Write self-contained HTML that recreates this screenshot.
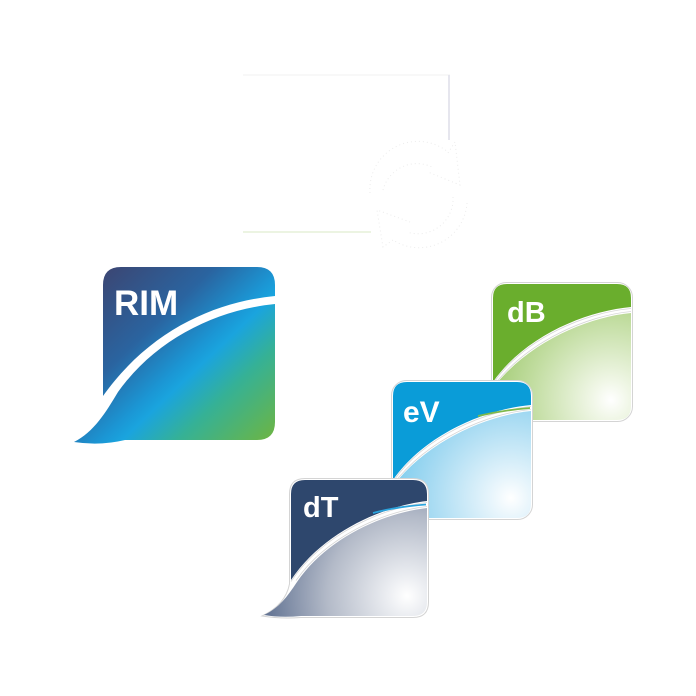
<!DOCTYPE html>
<html><head><meta charset="utf-8"><style>
html,body{margin:0;padding:0;background:#fff;}
svg{display:block;}
text{font-family:"Liberation Sans",sans-serif;font-weight:bold;fill:#fff;}
</style></head><body>
<svg width="696" height="696" viewBox="0 0 696 696" xmlns="http://www.w3.org/2000/svg">
<defs>
<linearGradient id="rim" gradientUnits="userSpaceOnUse" x1="110" y1="270" x2="272" y2="440">
<stop offset="0" stop-color="#3a4876"/>
<stop offset="0.3" stop-color="#2a64a0"/>
<stop offset="0.5" stop-color="#1b96d4"/>
<stop offset="0.56" stop-color="#1aa4de"/>
<stop offset="0.72" stop-color="#35b196"/>
<stop offset="1" stop-color="#6cb544"/>
</linearGradient>
<radialGradient id="gB" gradientUnits="userSpaceOnUse" cx="118" cy="116" r="150">
<stop offset="0" stop-color="#ffffff"/>
<stop offset="0.12" stop-color="#f1f7e8"/>
<stop offset="0.55" stop-color="#c0dc9e"/>
<stop offset="1" stop-color="#8ec058"/>
</radialGradient>
<radialGradient id="gV" gradientUnits="userSpaceOnUse" cx="118" cy="116" r="150">
<stop offset="0" stop-color="#ffffff"/>
<stop offset="0.12" stop-color="#eaf6fc"/>
<stop offset="0.55" stop-color="#a5daf2"/>
<stop offset="1" stop-color="#5fc2ea"/>
</radialGradient>
<radialGradient id="gT" gradientUnits="userSpaceOnUse" cx="116" cy="116" r="160">
<stop offset="0" stop-color="#ffffff"/>
<stop offset="0.12" stop-color="#eceef2"/>
<stop offset="0.5" stop-color="#b3bac8"/>
<stop offset="0.85" stop-color="#6a7a98"/>
<stop offset="1" stop-color="#4e6084"/>
</radialGradient>
</defs>

<!-- faint frame -->
<line x1="243" y1="75" x2="450" y2="75" stroke="#f5f5f5" stroke-width="1.5"/>
<line x1="449" y1="75" x2="449" y2="140" stroke="#e6e6ee" stroke-width="2"/>
<line x1="243" y1="232" x2="371" y2="232" stroke="#e6f1d8" stroke-width="1.5"/>

<!-- faint refresh icon -->
<g fill="none" stroke="#ececec" stroke-width="1" stroke-dasharray="1 3">
<path d="M370 193 A48 48 0 0 1 448 152"/>
<path d="M383 190 A35 35 0 0 1 432 167"/>
<path d="M448 153 L455 142 L460 185 L428 172"/>
<path d="M467 203 A48 48 0 0 1 393 240"/>
<path d="M453 197 A35 35 0 0 1 407 232"/>
<path d="M393 240 L383 247 L377 210 L410 222"/>
</g>

<!-- RIM icon -->
<path d="M103 285 Q103 267 121 267 L257 267 Q275 267 275 285 L275 296 C215 302 150 330 103 396 Z" fill="url(#rim)"/>
<path d="M275 304 C215 310 155 340 118 392 C106 412 94 432 74 442 Q100 446 125 440 L257 440 Q275 440 275 422 Z" fill="url(#rim)"/>
<text x="114" y="315" font-size="35">RIM</text>

<!-- dB icon -->
<g transform="translate(493,284)">
<rect x="-1.5" y="-1.5" width="141" height="139" rx="15" fill="#fff" stroke="#d4d4d4" stroke-width="1"/>
<path d="M0 14 Q0 0 14 0 L124 0 Q138 0 138 14 L138 23 C93 27 32 52 0 98 Z" fill="#6aae2d"/>
<path d="M138 29 C95 33 35 58 0 104 L0 122 Q0 136 14 136 L124 136 Q138 136 138 122 Z" fill="url(#gB)"/>
<path d="M138 24.5 C93 28.5 32 53.5 0 99.5" fill="none" stroke="#d6d6d6" stroke-width="0.8"/>
<path d="M138 27.5 C95 31.5 35 56.5 0 102.5" fill="none" stroke="#d6d6d6" stroke-width="0.8"/>
<text x="14" y="38" font-size="29">dB</text>
</g>

<!-- eV icon -->
<g transform="translate(393,382)">
<rect x="-1.5" y="-1.5" width="141" height="139" rx="15" fill="#fff" stroke="#d4d4d4" stroke-width="1"/>
<path d="M0 14 Q0 0 14 0 L124 0 Q138 0 138 14 L138 23 C93 27 32 52 0 98 Z" fill="#0a9cd8"/>
<path d="M138 29 C95 33 35 58 0 104 L0 122 Q0 136 14 136 L124 136 Q138 136 138 122 Z" fill="url(#gV)"/>
<path d="M138 24.5 C93 28.5 32 53.5 0 99.5" fill="none" stroke="#d6d6d6" stroke-width="0.8"/>
<path d="M138 27.5 C95 31.5 35 56.5 0 102.5" fill="none" stroke="#d6d6d6" stroke-width="0.8"/>
<path d="M137 26 C118 27.5 100 30.5 85 34" fill="none" stroke="#7fb94a" stroke-width="1.8"/>
<text x="10" y="40" font-size="30">eV</text>
</g>

<!-- dT icon -->
<g transform="translate(291,480)">
<path d="M14 -1.5 L122 -1.5 Q137.5 -1.5 137.5 14 L137.5 122 Q137.5 137.5 122 137.5 L10 137.5 Q-10 139 -29 136 C-12 128 -4 117 -1.5 104 L-1.5 14 Q-1.5 -1.5 14 -1.5 Z" fill="#fff" stroke="#d4d4d4" stroke-width="1"/>
<path d="M0 14 Q0 0 14 0 L122 0 Q136 0 136 14 L136 21 C92 26 32 52 0 100 Z" fill="#2e476d"/>
<path d="M136 28 C92 33 36 58 6 102 C-4 117 -12 128 -27 135 Q-10 138 10 136 L122 136 Q136 136 136 122 Z" fill="url(#gT)"/>
<path d="M136 22.5 C92 27.5 32 53.5 0 101.5" fill="none" stroke="#d6d6d6" stroke-width="0.8"/>
<path d="M136 26.5 C92 31.5 36 56.5 5 100.5" fill="none" stroke="#d6d6d6" stroke-width="0.8"/>
<path d="M135 24.5 C115 26 97 29 82 33" fill="none" stroke="#2ba3dc" stroke-width="1.8"/>
<text x="12" y="37" font-size="29">dT</text>
</g>
</svg>
</body></html>
